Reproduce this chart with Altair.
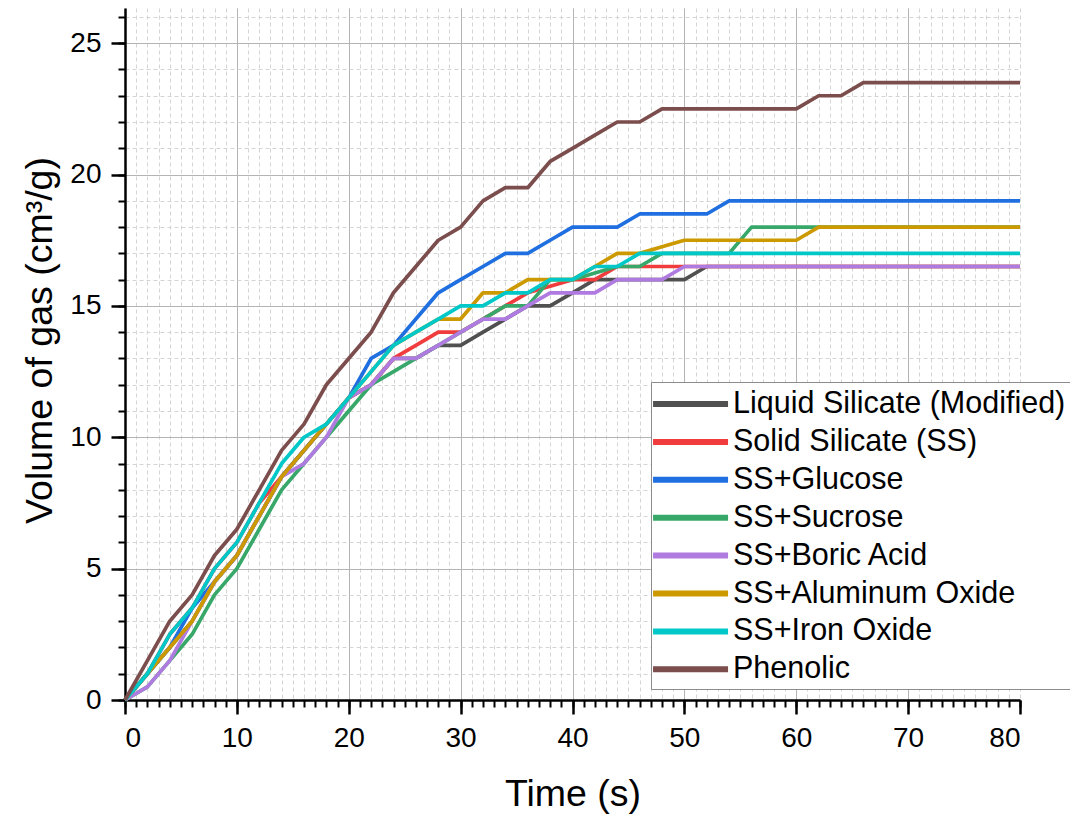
import altair as alt
import pandas as pd

time_s = list(range(0, 81, 2))

series_names = [
    "Liquid Silicate (Modified)",
    "Solid Silicate (SS)",
    "SS+Glucose",
    "SS+Sucrose",
    "SS+Boric Acid",
    "SS+Aluminum Oxide",
    "SS+Iron Oxide",
    "Phenolic",
]

series_colors = ["#505050", "#f03c3c", "#1f6fe0", "#37a86a", "#b07be0", "#cc9a00", "#00c8c8", "#7b4d4d"]

#                    0    2    4    6    8   10   12   14   16    18    20    22    24    26    28    30    32    34    36    38    40    42     44    46    48     50    52    54    56    58    60    62    64    66    68    70    72    74    76    78    80
liquid_silicate = [0, 1.0, 2.0, 3.0, 4.5, 5.5, 7.0, 8.5, 9.5, 10.5, 11.5, 12.0, 13.0, 13.0, 13.5, 13.5, 14.0, 14.5, 15.0, 15.0, 15.5, 16.0, 16.0, 16.0, 16.0, 16.0, 16.5, 16.5, 16.5, 16.5, 16.5, 16.5, 16.5, 16.5, 16.5, 16.5, 16.5, 16.5, 16.5, 16.5, 16.5]
solid_silicate = [0, 1.0, 2.5, 3.5, 5.0, 6.0, 7.5, 8.5, 9.5, 10.5, 11.5, 12.0, 13.0, 13.5, 14.0, 14.0, 14.5, 15.0, 15.5, 15.75, 16.0, 16.0, 16.5, 16.5, 16.5, 16.5, 16.5, 16.5, 16.5, 16.5, 16.5, 16.5, 16.5, 16.5, 16.5, 16.5, 16.5, 16.5, 16.5, 16.5, 16.5]
ss_glucose = [0, 1.0, 2.0, 3.5, 4.5, 5.5, 7.0, 8.5, 9.5, 10.5, 11.5, 13.0, 13.5, 14.5, 15.5, 16.0, 16.5, 17.0, 17.0, 17.5, 18.0, 18.0, 18.0, 18.5, 18.5, 18.5, 18.5, 19.0, 19.0, 19.0, 19.0, 19.0, 19.0, 19.0, 19.0, 19.0, 19.0, 19.0, 19.0, 19.0, 19.0]
ss_sucrose = [0, 0.5, 1.5, 2.5, 4.0, 5.0, 6.5, 8.0, 9.0, 10.0, 11.0, 12.0, 12.5, 13.0, 13.5, 14.0, 14.5, 15.0, 15.0, 16.0, 16.0, 16.25, 16.5, 16.5, 17.0, 17.0, 17.0, 17.0, 18.0, 18.0, 18.0, 18.0, 18.0, 18.0, 18.0, 18.0, 18.0, 18.0, 18.0, 18.0, 18.0]
ss_boric_acid = [0, 0.5, 1.5, 3.0, 4.5, 5.5, 7.0, 8.5, 9.0, 10.0, 11.5, 12.0, 13.0, 13.0, 13.5, 14.0, 14.5, 14.5, 15.0, 15.5, 15.5, 15.5, 16.0, 16.0, 16.0, 16.5, 16.5, 16.5, 16.5, 16.5, 16.5, 16.5, 16.5, 16.5, 16.5, 16.5, 16.5, 16.5, 16.5, 16.5, 16.5]
ss_aluminum_oxide = [0, 1.0, 2.0, 3.0, 4.5, 5.5, 7.0, 8.5, 9.5, 10.5, 11.5, 12.5, 13.5, 14.0, 14.5, 14.5, 15.5, 15.5, 16.0, 16.0, 16.0, 16.5, 17.0, 17.0, 17.25, 17.5, 17.5, 17.5, 17.5, 17.5, 17.5, 18.0, 18.0, 18.0, 18.0, 18.0, 18.0, 18.0, 18.0, 18.0, 18.0]
ss_iron_oxide = [0, 1.0, 2.5, 3.5, 5.0, 6.0, 7.5, 9.0, 10.0, 10.5, 11.5, 12.5, 13.5, 14.0, 14.5, 15.0, 15.0, 15.5, 15.5, 16.0, 16.0, 16.5, 16.5, 17.0, 17.0, 17.0, 17.0, 17.0, 17.0, 17.0, 17.0, 17.0, 17.0, 17.0, 17.0, 17.0, 17.0, 17.0, 17.0, 17.0, 17.0]
phenolic = [0, 1.5, 3.0, 4.0, 5.5, 6.5, 8.0, 9.5, 10.5, 12.0, 13.0, 14.0, 15.5, 16.5, 17.5, 18.0, 19.0, 19.5, 19.5, 20.5, 21.0, 21.5, 22.0, 22.0, 22.5, 22.5, 22.5, 22.5, 22.5, 22.5, 22.5, 23.0, 23.0, 23.5, 23.5, 23.5, 23.5, 23.5, 23.5, 23.5, 23.5]

series_values = [liquid_silicate, solid_silicate, ss_glucose, ss_sucrose,
                 ss_boric_acid, ss_aluminum_oxide, ss_iron_oxide, phenolic]

x_major_ticks = list(range(0, 81, 10))
x_minor_ticks = list(range(0, 81, 1))
y_major_ticks = list(range(0, 26, 5))
y_minor_ticks = list(range(0, 27, 1))

rows = []
for name, vals in zip(series_names, series_values):
    for t, v in zip(time_s, vals):
        rows.append({"Time": t, "Volume": v, "Series": name})
df = pd.DataFrame(rows)

FONT = "Liberation Sans"
x_scale = alt.Scale(domain=[0, 80], nice=False, zero=False)
y_scale = alt.Scale(domain=[0, 26.34], nice=False, zero=False)

minor = alt.Chart(df).mark_line(opacity=0).encode(
    x=alt.X("Time:Q", scale=x_scale, axis=alt.Axis(
        orient="bottom", values=x_minor_ticks, labels=False, title=None, domain=False,
        tickSize=7, tickWidth=2, tickColor="black",
        grid=True, gridDash=[4, 3], gridColor="#d4d4d4", gridWidth=1)),
    y=alt.Y("Volume:Q", scale=y_scale, axis=alt.Axis(
        orient="left", values=y_minor_ticks, labels=False, title=None, domain=False,
        tickSize=7, tickWidth=2, tickColor="black",
        grid=True, gridDash=[4, 3], gridColor="#d4d4d4", gridWidth=1)),
    detail="Series:N",
)

major = alt.Chart(df).mark_line(strokeWidth=3.7, strokeJoin="round").encode(
    x=alt.X("Time:Q", scale=x_scale, axis=alt.Axis(
        orient="bottom", values=x_major_ticks, title="Time (s)", format="d",
        domain=True, domainColor="black", domainWidth=2.5,
        tickSize=14, tickWidth=2.5, tickColor="black",
        labelFont=FONT, labelFontSize=28, labelColor="black", labelPadding=10,
        titleFont=FONT, titleFontSize=37.5, titleFontWeight="normal", titleColor="black",
        titlePadding=23,
        grid=True, gridColor="#b4b4b4", gridWidth=1,
        gridOpacity={"condition": {"test": "datum.value >= 80", "value": 0}, "value": 1})),
    y=alt.Y("Volume:Q", scale=y_scale, axis=alt.Axis(
        orient="left", values=y_major_ticks, title="Volume of gas (cm³/g)", format="d",
        domain=True, domainColor="black", domainWidth=2.5,
        tickSize=14, tickWidth=2.5, tickColor="black",
        labelFont=FONT, labelFontSize=28, labelColor="black", labelPadding=10,
        titleFont=FONT, titleFontSize=37.5, titleFontWeight="normal", titleColor="black",
        titlePadding=10, titleY=332,
        grid=True, gridColor="#b4b4b4", gridWidth=1)),
    color=alt.Color("Series:N", sort=series_names,
                    scale=alt.Scale(domain=series_names, range=series_colors),
                    legend=alt.Legend(
                        title=None, orient="none", legendX=526, legendY=374,
                        symbolType="M -1.33 0 H 3.67", symbolSize=900, symbolStrokeWidth=6,
                        symbolOpacity=1,
                        labelFont=FONT, labelFontSize=30.5, labelColor="black",
                        labelOffset=42, labelLimit=600, rowPadding=3.9,
                        padding=4, fillColor="white", strokeColor="#8c8c8c")),
)

chart = alt.layer(minor, major).resolve_axis(
    x="independent", y="independent"
).properties(
    width=895, height=692,
    padding={"left": 117, "top": 0, "right": 50, "bottom": 120},
    autosize=alt.AutoSizeParams(type="none"),
    background="white",
).configure_view(stroke=None)

chart.save("out.html", embed_options={"renderer": "svg", "actions": False})
